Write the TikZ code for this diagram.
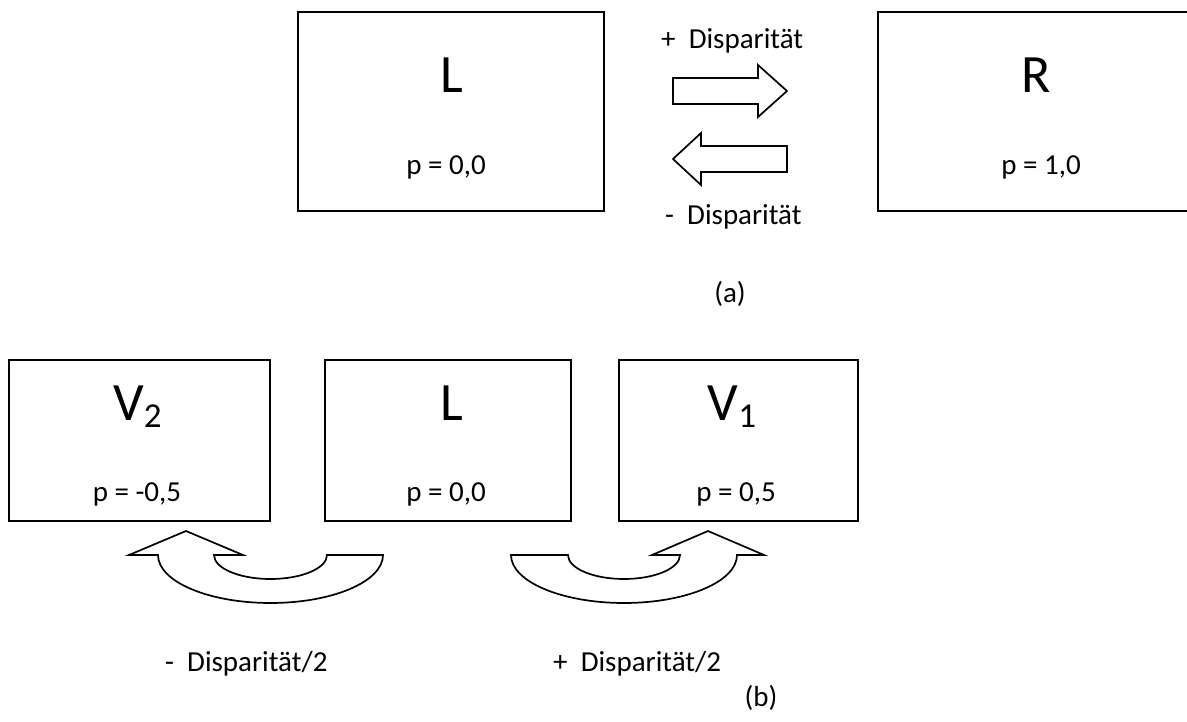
\documentclass[tikz,border=0pt]{standalone}
\usepackage{fontspec}
\setmainfont{Carlito}
\usetikzlibrary{positioning}

\tikzset{
  box/.style={draw, line width=2pt, inner sep=0pt},
  big/.style={font=\fontsize{54}{60}\selectfont, inner sep=0pt, anchor=base},
  small/.style={font=\fontsize{29}{34}\selectfont, inner sep=0pt, anchor=base},
  blockarrow/.style={draw, line width=1.7pt, line join=miter, fill=white},
}
\newcommand{\sub}[1]{\raisebox{-7pt}{\fontsize{35}{40}\selectfont #1}}

\begin{document}
\begin{tikzpicture}[x=1pt, y=-1pt]
  \useasboundingbox (0,0) rectangle (1187,722);
  \clip (0,0) rectangle (1187,722);

  % (a) two views
  \node[box, minimum width=306pt, minimum height=199pt] (boxL) at (451,111.5) {};
  \node[box, minimum width=318pt, minimum height=199pt] (boxR) at (1037,111.5) {};
  \node[big] (nameL) at (452,93) {L};
  \node[big] (nameR) at (1036,93) {R};
  \node[small] (posL) at (446,175) {p = 0,0};
  \node[small] (posR) at (1041,175) {p = 1,0};

  \draw[blockarrow] (673,78) -- (758,78) -- (758,65) -- (787,91) -- (758,117) -- (758,104) -- (673,104) -- cycle;
  \draw[blockarrow] (787,146) -- (701,146) -- (701,133) -- (673,159) -- (701,185) -- (701,172) -- (787,172) -- cycle;
  \node[small, anchor=base west] (plusD) at (661,49) {+~~Disparität};
  \node[small, anchor=base west] (minusD) at (665,225) {-~~Disparität};
  \node[small] (capA) at (730,302) {(a)};

  % (b) virtual views
  \node[box, minimum width=261pt, minimum height=161pt] (boxV2) at (139.5,440.5) {};
  \node[box, minimum width=246pt, minimum height=161pt] (boxLb) at (448,440.5) {};
  \node[box, minimum width=239pt, minimum height=161pt] (boxV1) at (738.5,440.5) {};
  \node[big] (nameV2) at (137.5,420) {V\sub{2}};
  \node[big] (nameLb) at (452,420) {L};
  \node[big] (nameV1) at (732,420) {V\sub{1}};
  \node[small] (posV2) at (137,501) {p = -0,5};
  \node[small] (posLb) at (446,501) {p = 0,0};
  \node[small] (posV1) at (736,501) {p = 0,5};

  % curved arrows under the boxes
  \draw[blockarrow] (383,555) arc[start angle=0, end angle=-180, x radius=112.5pt, y radius=48pt]
    -- (129,555) -- (186,531) -- (243,555) -- (214,555)
    arc[start angle=180, end angle=360, x radius=56.5pt, y radius=24pt] -- cycle;
  \draw[blockarrow] (511,555) arc[start angle=180, end angle=360, x radius=113pt, y radius=48pt]
    -- (764,555) -- (708,531) -- (652,555) -- (680,555)
    arc[start angle=0, end angle=-180, x radius=56pt, y radius=24pt] -- cycle;
  \node[small, anchor=base west] (minusDh) at (165,671) {-~~Disparität/2};
  \node[small, anchor=base west] (plusDh) at (553,671) {+~~Disparität/2};
  \node[small] (capB) at (761,706) {(b)};
\end{tikzpicture}
\end{document}
